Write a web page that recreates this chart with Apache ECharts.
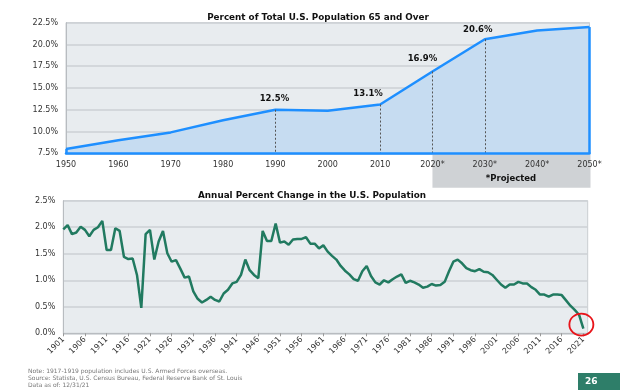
<!DOCTYPE html>
<html>
<head>
<meta charset="utf-8">
<script src="https://cdn.jsdelivr.net/npm/echarts@6/dist/echarts.min.js"></script>
<style>
html,body{margin:0;padding:0;background:#fff;}
#chart{width:624px;height:390px;}
</style>
</head>
<body>
<div id="chart"></div>
<script>
// ---- Top chart data ----
const decadeLabels = ['1950','1960','1970','1980','1990','2000','2010','2020*','2030*','2040*','2050*'];
const pct65 = [8.0, 9.0, 9.9, 11.3, 12.5, 12.4, 13.1, 16.9, 20.6, 21.6, 22.0];
const labeledDecades = ['1990','2010','2020*','2030*'];
const pctTicks = [7.5, 22.5, 2.5];

// ---- Bottom chart data ----
const firstYear = 1901;
const growthPct = [
  1.96, 2.04, 1.87, 1.90, 2.01, 1.95, 1.83, 1.95, 2.00, 2.12,
  1.57, 1.57, 1.98, 1.93, 1.44, 1.40, 1.41, 1.10, 0.48, 1.87,
  1.95, 1.39, 1.73, 1.93, 1.51, 1.35, 1.38, 1.22, 1.05, 1.07,
  0.79, 0.65, 0.58, 0.63, 0.69, 0.63, 0.60, 0.75, 0.82, 0.94,
  0.97, 1.10, 1.39, 1.19, 1.10, 1.04, 1.93, 1.74, 1.74, 2.07,
  1.71, 1.73, 1.67, 1.77, 1.78, 1.78, 1.81, 1.69, 1.69, 1.60,
  1.66, 1.54, 1.46, 1.39, 1.27, 1.18, 1.11, 1.02, 0.99, 1.17,
  1.27, 1.08, 0.96, 0.92, 1.00, 0.96, 1.02, 1.07, 1.11, 0.95,
  0.99, 0.96, 0.92, 0.86, 0.88, 0.93, 0.90, 0.91, 0.97, 1.17,
  1.35, 1.39, 1.32, 1.23, 1.19, 1.17, 1.21, 1.16, 1.15, 1.10,
  1.01, 0.92, 0.86, 0.92, 0.92, 0.97, 0.94, 0.94, 0.87, 0.82,
  0.73, 0.73, 0.69, 0.73, 0.73, 0.72, 0.62, 0.52, 0.44, 0.35,
  0.09
];
const years = growthPct.map((_, i) => String(firstYear + i));
const axisYears = years.concat([String(firstYear + growthPct.length)]); // axis extends one year past data
const growthTicks = [0, 2.5, 0.5];

const FONT = 'DejaVu Sans';
const chart = echarts.init(document.getElementById('chart'));

const labelShift = {'1990':[-1,-1], '2010':[-12,-1], '2020*':[-10,-3], '2030*':[-7,0]};

const option = {
  animation: false,
  backgroundColor: '#ffffff',
  textStyle: {fontFamily: FONT},
  title: [
    {text: 'Percent of Total U.S. Population 65 and Over', left: 313, top: 8, textAlign: 'center',
     textStyle: {fontFamily: FONT, fontSize: 8.8, fontWeight: 'bold', color: '#111'}},
    {text: 'Annual Percent Change in the U.S. Population', left: 307, top: 186, textAlign: 'center',
     textStyle: {fontFamily: FONT, fontSize: 8.8, fontWeight: 'bold', color: '#111'}}
  ],
  grid: [
    {left: 66, right: 34.5, top: 22.7, bottom: 236.7, show: true, backgroundColor: '#e8ecef', borderColor: '#c9cdd1', borderWidth: 1},
    {left: 63.3, right: 36.3, top: 200.7, bottom: 56.7, show: true, backgroundColor: '#e8ecef', borderColor: '#c9cdd1', borderWidth: 1}
  ],
  xAxis: [
    {type: 'category', gridIndex: 0, data: decadeLabels, boundaryGap: false,
     axisLine: {lineStyle: {color: '#1e8fff', width: 2.5}},
     axisTick: {show: false},
     axisLabel: {fontFamily: FONT, fontSize: 8, color: '#333', margin: 8},
     splitLine: {show: false}, z: 5},
    {type: 'category', gridIndex: 1, data: axisYears, boundaryGap: false,
     axisLine: {lineStyle: {color: '#b8bcc0', width: 1}},
     axisTick: {show: true, interval: 4, length: 3, lineStyle: {color: '#999'}},
     axisLabel: {interval: 4, rotate: 45, fontFamily: FONT, fontSize: 8, color: '#333', margin: 5},
     splitLine: {show: false}}
  ],
  yAxis: [
    {type: 'value', gridIndex: 0, min: pctTicks[0], max: pctTicks[1], interval: pctTicks[2],
     axisLine: {show: true, lineStyle: {color: '#b8bcc0'}}, axisTick: {show: false},
     axisLabel: {fontFamily: FONT, fontSize: 8, color: '#333', margin: 8, formatter: v => v.toFixed(1) + '%'},
     splitLine: {lineStyle: {color: '#cdd1d5', width: 1.5}}},
    {type: 'value', gridIndex: 1, min: growthTicks[0], max: growthTicks[1], interval: growthTicks[2],
     axisLine: {show: true, lineStyle: {color: '#b8bcc0'}}, axisTick: {show: false},
     axisLabel: {fontFamily: FONT, fontSize: 8, color: '#333', margin: 8, formatter: v => v.toFixed(1) + '%'},
     splitLine: {lineStyle: {color: '#cdd1d5', width: 1.5}}}
  ],
  series: [
    {type: 'line', xAxisIndex: 0, yAxisIndex: 0, symbol: 'circle', symbolSize: 0.1, showSymbol: true, z: 3,
     itemStyle: {color: '#1e8fff'},
     lineStyle: {color: '#1e8fff', width: 2.5},
     areaStyle: {color: '#c6dcf1', opacity: 1, origin: 'start'},
     labelLayout: function (p) {
       const s = labelShift[decadeLabels[p.dataIndex]] || [0, 0];
       return {dx: s[0], dy: s[1], hideOverlap: false};
     },
     data: pct65.map((v, i) => {
       const c = decadeLabels[i];
       if (labeledDecades.indexOf(c) >= 0) {
         return {value: v, label: {show: true, position: 'top', distance: 5,
           formatter: v.toFixed(1) + '%', fontFamily: FONT, fontSize: 8.5, fontWeight: 'bold', color: '#111'}};
       }
       return v;
     }),
     markLine: {
       silent: true, symbol: 'none', label: {show: false},
       data: labeledDecades.map(c => [
         {coord: [c, pct65[decadeLabels.indexOf(c)]], lineStyle: {type: [2, 2], color: '#555', width: 1}},
         {coord: [c, pctTicks[0]]}
       ]).concat([[
         {coord: [decadeLabels[decadeLabels.length - 1], pct65[pct65.length - 1]], lineStyle: {type: 'solid', color: '#1e8fff', width: 2.5}},
         {coord: [decadeLabels[decadeLabels.length - 1], pctTicks[0]]}
       ], [
         {coord: [decadeLabels[0], pct65[0]], lineStyle: {type: 'solid', color: '#1e8fff', width: 2.5}},
         {coord: [decadeLabels[0], pctTicks[0]]}
       ]])
     }},
    {type: 'line', xAxisIndex: 1, yAxisIndex: 1, symbol: 'none', z: 3,
     lineStyle: {color: '#217a60', width: 2.5},
     data: growthPct,
     markPoint: {
       silent: true, symbol: 'circle', symbolSize: [24, 22], symbolOffset: [-2, -4],
       itemStyle: {color: 'rgba(0,0,0,0)', borderColor: '#e8141a', borderWidth: 1.8},
       label: {show: false},
       data: [{coord: [years[years.length - 1], growthPct[growthPct.length - 1]]}]
     }}
  ]
};
chart.setOption(option);

// Projected shaded box under the projected decades (positions from the axis scale)
const xa = chart.convertToPixel({xAxisIndex: 0}, '2020*');
const xb = chart.convertToPixel({xAxisIndex: 0}, '2050*');
const yBase = chart.convertToPixel({yAxisIndex: 0}, pctTicks[0]);

chart.setOption({
  graphic: [
    {type: 'rect', z: -1, zlevel: 0, silent: true,
     shape: {x: xa, y: yBase + 1.5, width: xb - xa + 1, height: 33},
     style: {fill: '#cfd2d5'}},
    {type: 'text', silent: true, z: 10,
     style: {text: '*Projected', x: (xa + xb) / 2, y: yBase + 25.5, textAlign: 'center', textVerticalAlign: 'middle',
       font: 'bold 8.5px "DejaVu Sans"', fill: '#111'}},
    {type: 'text', silent: true,
     style: {text: 'Note: 1917-1919 population includes U.S. Armed Forces overseas.\nSource: Statista, U.S. Census Bureau, Federal Reserve Bank of St. Louis\nData as of: 12/31/21',
       x: 28, y: 368, font: '6px "DejaVu Sans"', fill: '#777', lineHeight: 7}},
    {type: 'rect', silent: true, shape: {x: 578, y: 373, width: 42, height: 17}, style: {fill: '#2e7e69'}},
    {type: 'text', silent: true,
     style: {text: '26', x: 585, y: 382, textVerticalAlign: 'middle', font: 'bold 9px "DejaVu Sans"', fill: '#fff'}}
  ]
});
</script>
</body>
</html>
